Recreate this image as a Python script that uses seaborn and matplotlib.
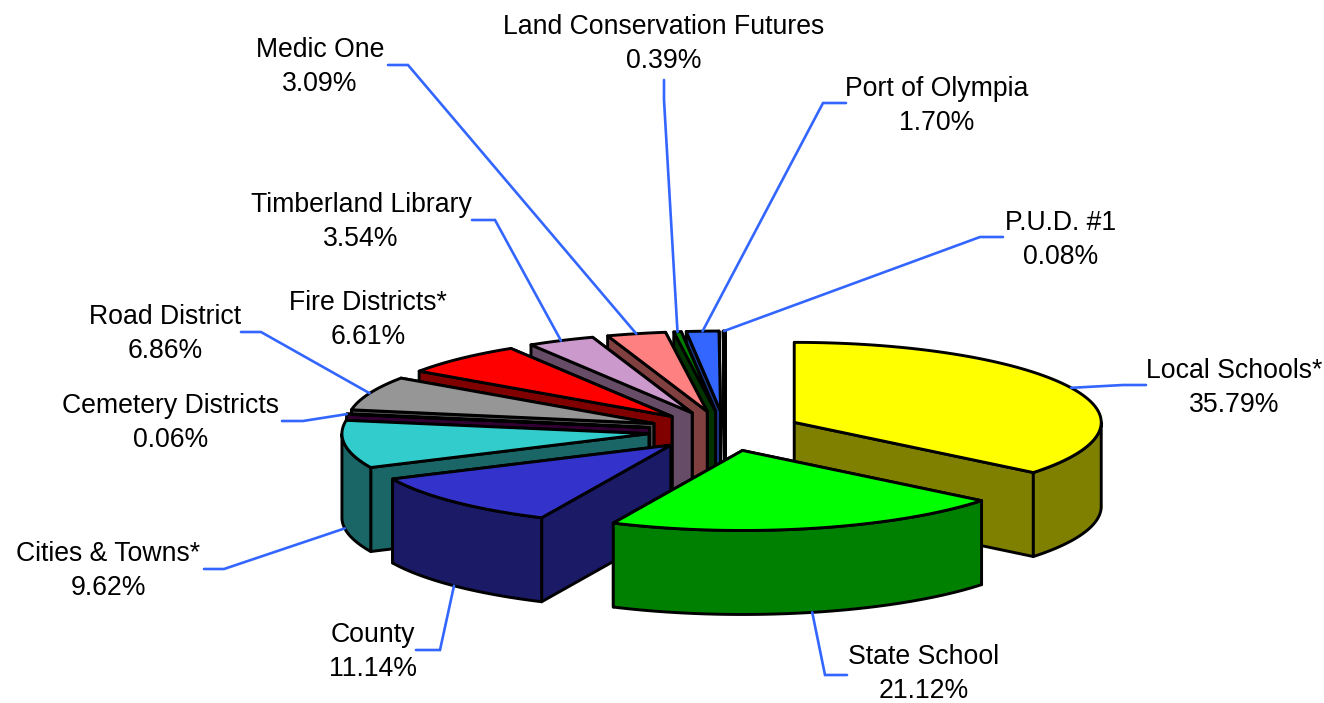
import numpy as np
import matplotlib
matplotlib.use("Agg")
import matplotlib.pyplot as plt
import seaborn as sns

names = ["Local Schools*", "State School", "County", "Cities & Towns*", "Cemetery Districts",
         "Road District", "Fire Districts*", "Timberland Library", "Medic One",
         "Land Conservation Futures", "Port of Olympia", "P.U.D. #1"]
shares = [35.79, 21.12, 11.14, 9.62, 0.06, 6.86, 6.61, 3.54, 3.09, 0.39, 1.70, 0.08]
top_colors = ["#ffff00", "#00ff00", "#3333cc", "#33cccc", "#660066", "#969696",
              "#ff0000", "#cc99cc", "#ff8080", "#008000", "#3366ff", "#ffffff"]
side_colors = ["#808000", "#008000", "#1a1a66", "#1a6666", "#330033", "#4b4b4b",
               "#800000", "#664c66", "#804040", "#003300", "#1a3380", "#808080"]

label_centers = [(1234, 388), (924, 674), (373, 652), (108, 571), (171, 423), (165, 334),
                 (368, 320), (361, 222), (320, 67), (664, 44), (937, 106), (1061, 240)]
leader_starts = [(1146, 385), (847, 675), (416, 650), (204, 569), (282, 421), (241, 332),
                 None, (472, 220), (388, 65), (664, 80), (846, 103), (1003, 237)]
leader_elbows = [(1123, 385), (825, 675), (440, 650), (224, 569), (303, 421), (261, 332),
                 None, (495, 220), (408, 65), (664, 100), (823, 103), (980, 237)]

CX, CY, RX, RY, DEPTH, EXPLODE = 725, 431, 307, 80, 84, 0.25
EDGE = dict(edgecolor="black", linewidth=2.1, joinstyle="round")

sns.set_theme(style="white")
plt.rcParams["font.family"] = ["Liberation Sans", "DejaVu Sans"]

fig, ax = plt.subplots(figsize=(13.24, 7.03), dpi=100)
ax.set_position([0, 0, 1, 1])
ax.set_xlim(0, 1324)
ax.set_ylim(703, 0)
ax.axis("off")

fractions = np.array(shares) / np.sum(shares)
ends = np.cumsum(fractions) * 2 * np.pi
starts = ends - fractions * 2 * np.pi


def point(theta, radius=1.0):
    return np.array([radius * RX * np.sin(theta), -radius * RY * np.cos(theta)])


wedges = []
for i in range(len(shares)):
    mid = (starts[i] + ends[i]) / 2
    wedges.append((i, np.array([CX, CY]) + point(mid, EXPLODE), mid))

for i, apex, mid in sorted(wedges, key=lambda w: w[1][1]):
    a0, a1 = starts[i], ends[i]
    drop = np.array([0, DEPTH])
    faces = []
    for a in (a0, a1):
        edge = apex + point(a)
        faces.append(np.array([apex, edge, edge + drop, apex + drop]))
    lo, hi = max(a0, np.pi / 2), min(a1, 3 * np.pi / 2)
    if hi > lo:
        arc = np.array([apex + point(t) for t in np.linspace(lo, hi, 80)])
        faces.append(np.vstack([arc, arc[::-1] + drop]))
    for face in sorted(faces, key=lambda f: f[:, 1].mean()):
        ax.fill(face[:, 0], face[:, 1], facecolor=side_colors[i], **EDGE)
    arc = np.array([apex + point(t) for t in np.linspace(a0, a1, 120)])
    top = np.vstack([apex, arc])
    ax.fill(top[:, 0], top[:, 1], facecolor=top_colors[i], **EDGE)

for i, apex, mid in wedges:
    cx, cy = label_centers[i]
    ax.text(cx, cy, f"{names[i]}\n{shares[i]:.2f}%", ha="center", va="center",
            fontsize=19.2, color="black", linespacing=1.36)
    if leader_starts[i] is None:
        continue
    anchor = apex + point(mid)
    if np.pi / 2 < mid < 3 * np.pi / 2:
        anchor = anchor + np.array([0, DEPTH])
    xs = [leader_starts[i][0], leader_elbows[i][0], anchor[0]]
    ys = [leader_starts[i][1], leader_elbows[i][1], anchor[1]]
    ax.plot(xs, ys, color="#3366ff", lw=1.9, solid_joinstyle="miter")

fig.savefig("out.png", dpi=100, facecolor="white")
